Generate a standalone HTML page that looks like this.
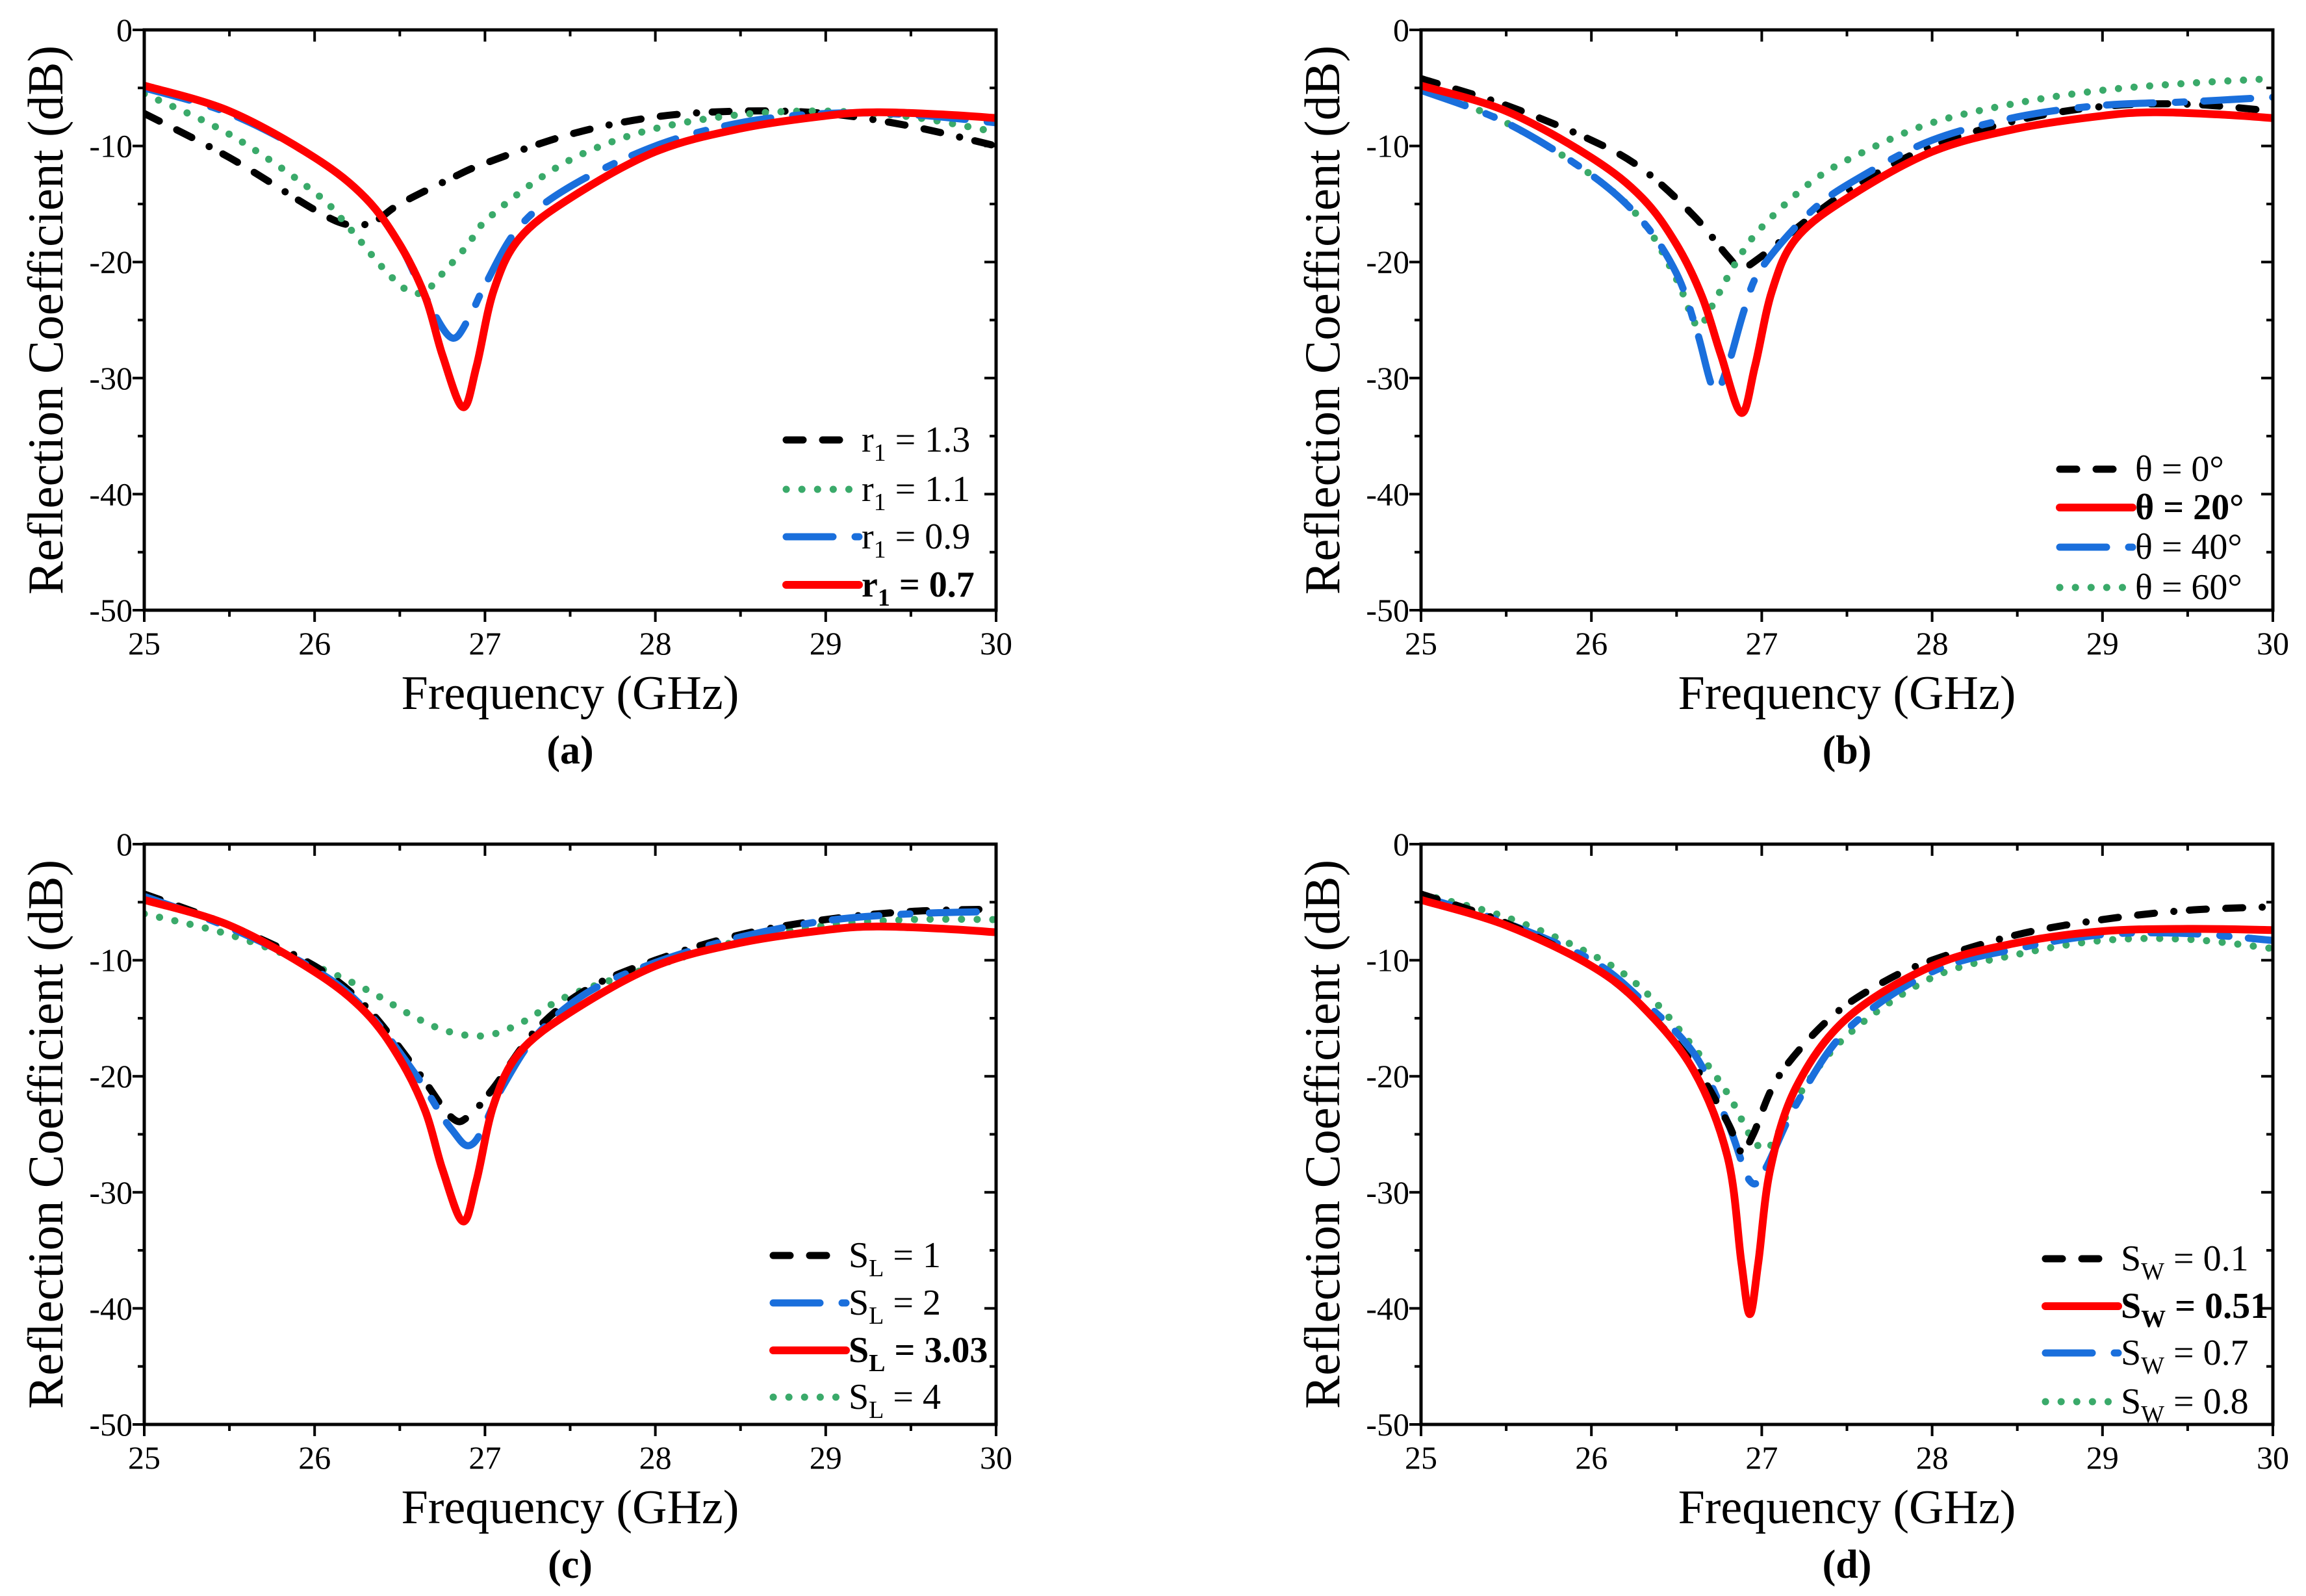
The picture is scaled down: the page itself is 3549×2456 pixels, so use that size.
<!DOCTYPE html>
<html><head><meta charset="utf-8"><style>
html,body{margin:0;padding:0;background:#fff;}
svg{display:block;}
text{font-family:"Liberation Serif",serif;fill:#000;}
</style></head><body>
<svg id="chart" width="3549" height="2456" viewBox="0 0 3549 2456" xmlns="http://www.w3.org/2000/svg"></svg>
<script>
// ---- data ----
const redF=[25,25.5,26,26.3,26.5,26.65,26.75,26.87,26.95,27.05,27.2,27.5,28,28.5,29,29.3,29.7,30];
const redV=[-4.8,-7,-11,-14.5,-18.5,-23,-28,-32.5,-29,-22.5,-18,-14.5,-10.5,-8.5,-7.4,-7.1,-7.3,-7.6];
const aBlueF=[25,25.5,26,26.3,26.5,26.65,26.8,26.9,27,27.2,27.5,28,28.5,29,29.5,30];
const aBlueV=[-5,-7.2,-11,-14.5,-18.5,-23,-26.5,-25,-22,-17,-13.5,-10,-8,-7.2,-7.3,-8];
const aGreenF=[25,25.5,26,26.2,26.4,26.55,26.65,26.75,26.9,27,27.3,27.6,28,28.5,29,29.5,30];
const aGreenV=[-5.5,-9,-14,-17,-20.5,-22.5,-22.5,-21,-18.5,-16.5,-13,-10.5,-8.5,-7.3,-7,-7.5,-8.8];
const aBlackF=[25,25.5,26,26.2,26.35,26.5,26.8,27,27.5,28,28.5,29,29.5,30];
const aBlackV=[-7.2,-11,-15.5,-16.8,-16.5,-15,-12.8,-11.5,-9,-7.5,-7,-7.2,-8.3,-10];

const bBlackF=[25,25.5,26,26.3,26.6,26.8,26.88,27,27.3,27.6,28,28.5,29,29.5,30];
const bBlackV=[-4.2,-6.5,-9.5,-12,-16,-19.5,-20.5,-19.5,-16,-13,-10,-7.8,-6.6,-6.4,-7];
const bRedF=[25,25.5,26,26.3,26.5,26.65,26.76,26.88,26.96,27.06,27.2,27.5,28,28.5,29,29.3,29.7,30];
const bRedV=[-4.8,-7,-11,-14.5,-18.5,-23,-28,-33,-29,-22.5,-18,-14.5,-10.5,-8.5,-7.4,-7.1,-7.3,-7.6];
const bBlueF=[25,25.5,26,26.3,26.5,26.62,26.72,26.8,26.9,27,27.3,27.6,28,28.5,29,29.5,30];
const bBlueV=[-5.2,-8,-12.5,-16.5,-21,-26,-31,-29,-24,-20.5,-15.5,-12.5,-9.5,-7.5,-6.5,-6.2,-5.8];
const bGreenF=[25,25.5,26,26.3,26.5,26.62,26.7,26.85,27,27.3,27.6,28,28.5,29,29.5,30];
const bGreenV=[-5,-8,-12.5,-16.5,-21.5,-25.5,-24,-20,-17,-13,-10.5,-8,-6.3,-5.2,-4.6,-4.2];

const cBlackF=[25,25.5,26,26.3,26.6,26.8,26.9,27.05,27.3,27.6,28,28.5,29,29.5,30];
const cBlackV=[-4.3,-7,-10.5,-14,-19.5,-23.5,-23.5,-21,-16,-12.5,-10,-7.8,-6.5,-5.8,-5.6];
const cBlueF=[25,25.5,26,26.3,26.6,26.8,26.93,27.1,27.3,27.6,28,28.5,29,29.5,30];
const cBlueV=[-4.5,-7.2,-10.8,-14.3,-20,-24.5,-25.8,-21,-16.5,-12.8,-10.2,-8,-6.6,-6,-5.8];
const cGreenF=[25,25.5,26,26.3,26.6,26.8,27,27.2,27.5,28,28.5,29,29.5,30];
const cGreenV=[-6,-7.8,-10.5,-12.5,-15,-16.2,-16.5,-15.5,-13,-10.5,-8.3,-7,-6.5,-6.5];

const dBlackF=[25,25.5,26,26.3,26.6,26.8,26.88,26.95,27.1,27.4,27.7,28,28.5,29,29.5,30];
const dBlackV=[-4.3,-6.8,-10.5,-14,-19,-24,-26.5,-25,-20,-15,-12,-10,-7.8,-6.5,-5.7,-5.4];
const dRedF=[25,25.5,26,26.3,26.6,26.8,26.88,26.93,26.98,27.05,27.2,27.5,28,28.5,29,29.5,30];
const dRedV=[-4.8,-7,-10.5,-14,-19.5,-27,-36,-40.5,-36,-28,-21,-15,-10.5,-8.5,-7.5,-7.3,-7.4];
const dBlueF=[25,25.5,26,26.3,26.6,26.8,26.93,27.02,27.2,27.5,28,28.5,29,29.5,30];
const dBlueV=[-4.5,-6.8,-10,-13.5,-18,-24,-29,-28,-22.5,-16,-11,-9,-7.8,-7.7,-8.3];
const dGreenF=[25,25.5,26,26.3,26.6,26.8,26.95,27.05,27.2,27.5,28,28.5,29,29.5,30];
const dGreenV=[-4.3,-6.3,-9.5,-12.5,-17.5,-21.5,-25.5,-26,-22,-16.5,-11.5,-9.5,-8.3,-8.2,-9];

const xTicks=[25,26,27,28,29,30];
const yTicks=[0,-10,-20,-30,-40,-50];

// ---- styles ----
const ST={
 black:{c:'#000',w:11,d:'26 30 26 30 0.1 24'},
 green:{c:'#3aaa6a',w:11,d:'0.1 24'},
 blue:{c:'#1a6fdc',w:11,d:'72 34 14 30'},
 red:{c:'#ff0000',w:12,d:''}
};
const NS='http://www.w3.org/2000/svg';
const svg=document.getElementById('chart');
function mk(tag,attrs,parent){const e=document.createElementNS(NS,tag);for(const k in attrs)e.setAttribute(k,attrs[k]);(parent||svg).appendChild(e);return e;}

function smoothPath(pts){
 let d='M'+pts[0][0].toFixed(1)+','+pts[0][1].toFixed(1);
 for(let i=0;i<pts.length-1;i++){
  const p0=pts[i-1]||pts[i],p1=pts[i],p2=pts[i+1],p3=pts[i+2]||p2;
  const c1=[p1[0]+(p2[0]-p0[0])/6,p1[1]+(p2[1]-p0[1])/6];
  const c2=[p2[0]-(p3[0]-p1[0])/6,p2[1]-(p3[1]-p1[1])/6];
  d+=' C'+c1[0].toFixed(1)+','+c1[1].toFixed(1)+' '+c2[0].toFixed(1)+','+c2[1].toFixed(1)+' '+p2[0].toFixed(1)+','+p2[1].toFixed(1);
 }
 return d;
}

function panel(ox,oy,letter,series,legend){
 const x0=ox,x1=ox+1311,y0=oy,y1=oy+893;
 const sx=f=>x0+(f-25)/5*(x1-x0);
 const sy=v=>y0+(-v)/50*(y1-y0);
 const g=mk('g',{});
 
 
 const cp=mk('clipPath',{id:'clip'+letter},g);
 mk('rect',{x:x0,y:y0-20,width:x1-x0,height:y1-y0+20},cp);
 series.forEach(s=>{
  const st=ST[s.style];
  const pts=s.f.map((f,i)=>[sx(f),sy(s.v[i])]);
  const p=mk('path',{d:smoothPath(pts),fill:'none',stroke:st.c,'stroke-width':st.w,'stroke-linecap':'round','stroke-linejoin':'round','clip-path':'url(#clip'+letter+')'},g);
  if(st.d)p.setAttribute('stroke-dasharray',st.d);
  
  
 });
 const fr=mk('rect',{x:x0,y:y0,width:x1-x0,height:y1-y0,fill:'none',stroke:'#000','stroke-width':5},g);
 
 
 for(let f=25;f<=30.001;f+=0.5){
  const major=Math.abs(f-Math.round(f))<1e-6;const L=major?18:10;const x=sx(f);
  mk('line',{x1:x,x2:x,y1:y1,y2:y1+L,stroke:'#000','stroke-width':4},g);
  mk('line',{x1:x,x2:x,y1:y0,y2:y0+L,stroke:'#000','stroke-width':4},g);
 }
 for(let v=0;v>=-50;v-=5){
  const major=v%10===0;const L=major?18:10;const y=sy(v);
  mk('line',{x1:x0-L,x2:x0,y1:y,y2:y,stroke:'#000','stroke-width':4},g);
  mk('line',{x1:x1-L,x2:x1,y1:y,y2:y,stroke:'#000','stroke-width':4},g);
 }
 xTicks.forEach(t=>{
  const e=mk('text',{x:sx(t),y:y1+68,'font-size':50,'text-anchor':'middle'},g);e.textContent=t;
  
  
 });
 yTicks.forEach(t=>{
  const e=mk('text',{x:x0-18,y:sy(t)+17,'font-size':50,'text-anchor':'end'},g);e.textContent=t;
  
  
 });
 const xt=mk('text',{x:(x0+x1)/2,y:y1+152,'font-size':74,'text-anchor':'middle'},g);xt.textContent='Frequency (GHz)';
 
 
 const cy=(y0+y1)/2, tx=x0-152;
 const yt=mk('text',{x:tx,y:cy,'font-size':77,'text-anchor':'middle',transform:'rotate(-90 '+tx+' '+cy+')','dominant-baseline':'central'},g);yt.textContent='Reflection Coefficient (dB)';
 
 
 const lt=mk('text',{x:(x0+x1)/2,y:y1+236,'font-size':62,'font-weight':'bold','text-anchor':'middle'},g);lt.textContent='('+letter+')';
 
 
 legend.rows.forEach((r,i)=>{
  const y=legend.y[i];const st=ST[r.style];
  const ln=mk('line',{x1:legend.lx,x2:legend.lx+112,y1:y,y2:y,stroke:st.c,'stroke-width':st.w,'stroke-linecap':'round'},g);
  if(st.d)ln.setAttribute('stroke-dasharray',st.d);
  
  
  const t=mk('text',{x:legend.lx+116,y:y+18,'font-size':56},g);
  if(r.bold)t.setAttribute('font-weight','bold');
  t.innerHTML=r.label;
  
  
 });
}

panel(222,46,'a',[
 {name:'r1-1.3',style:'black',f:aBlackF,v:aBlackV},
 {name:'r1-1.1',style:'green',f:aGreenF,v:aGreenV},
 {name:'r1-0.9',style:'blue',f:aBlueF,v:aBlueV},
 {name:'r1-0.7',style:'red',f:redF,v:redV}
],{lx:1210,y:[677,753,826,900],rows:[
 {style:'black',label:'r<tspan font-size="38" dy="14">1</tspan><tspan dy="-14"> = 1.3</tspan>'},
 {style:'green',label:'r<tspan font-size="38" dy="14">1</tspan><tspan dy="-14"> = 1.1</tspan>'},
 {style:'blue',label:'r<tspan font-size="38" dy="14">1</tspan><tspan dy="-14"> = 0.9</tspan>'},
 {style:'red',bold:true,label:'r<tspan font-size="38" dy="14">1</tspan><tspan dy="-14"> = 0.7</tspan>'}]});

panel(2187,46,'b',[
 {name:'theta-0',style:'black',f:bBlackF,v:bBlackV},
 {name:'theta-60',style:'green',f:bGreenF,v:bGreenV},
 {name:'theta-40',style:'blue',f:bBlueF,v:bBlueV},
 {name:'theta-20',style:'red',f:bRedF,v:bRedV}
],{lx:3170,y:[722,781,842,904],rows:[
 {style:'black',label:'θ = 0°'},
 {style:'red',bold:true,label:'θ = 20°'},
 {style:'blue',label:'θ = 40°'},
 {style:'green',label:'θ = 60°'}]});

panel(222,1299,'c',[
 {name:'sl-4',style:'green',f:cGreenF,v:cGreenV},
 {name:'sl-1',style:'black',f:cBlackF,v:cBlackV},
 {name:'sl-2',style:'blue',f:cBlueF,v:cBlueV},
 {name:'sl-3.03',style:'red',f:redF,v:redV}
],{lx:1190,y:[1932,2005,2078,2150],rows:[
 {style:'black',label:'S<tspan font-size="38" dy="14">L</tspan><tspan dy="-14"> = 1</tspan>'},
 {style:'blue',label:'S<tspan font-size="38" dy="14">L</tspan><tspan dy="-14"> = 2</tspan>'},
 {style:'red',bold:true,label:'S<tspan font-size="38" dy="14">L</tspan><tspan dy="-14"> = 3.03</tspan>'},
 {style:'green',label:'S<tspan font-size="38" dy="14">L</tspan><tspan dy="-14"> = 4</tspan>'}]});

panel(2187,1299,'d',[
 {name:'sw-0.8',style:'green',f:dGreenF,v:dGreenV},
 {name:'sw-0.7',style:'blue',f:dBlueF,v:dBlueV},
 {name:'sw-0.1',style:'black',f:dBlackF,v:dBlackV},
 {name:'sw-0.51',style:'red',f:dRedF,v:dRedV}
],{lx:3148,y:[1937,2010,2082,2157],rows:[
 {style:'black',label:'S<tspan font-size="38" dy="14">W</tspan><tspan dy="-14"> = 0.1</tspan>'},
 {style:'red',bold:true,label:'S<tspan font-size="38" dy="14">W</tspan><tspan dy="-14"> = 0.51</tspan>'},
 {style:'blue',label:'S<tspan font-size="38" dy="14">W</tspan><tspan dy="-14"> = 0.7</tspan>'},
 {style:'green',label:'S<tspan font-size="38" dy="14">W</tspan><tspan dy="-14"> = 0.8</tspan>'}]});
</script>
</body></html>
